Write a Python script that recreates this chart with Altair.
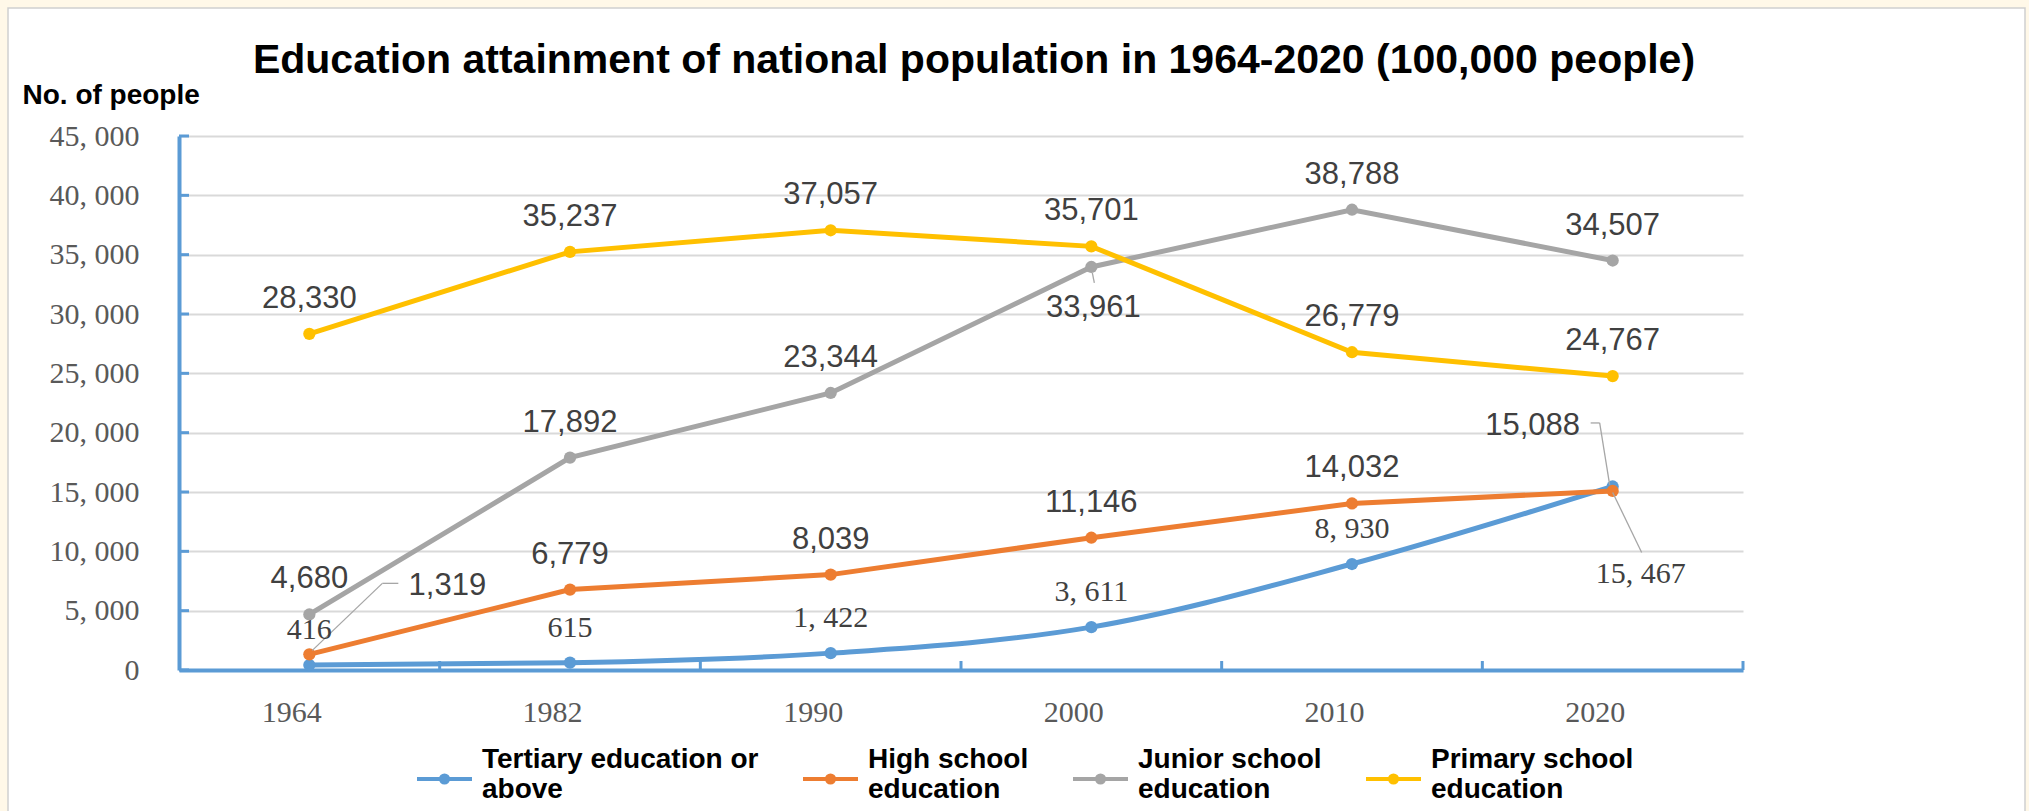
import altair as alt
import pandas as pd

# ---------------- data ----------------
years = ["1964", "1982", "1990", "2000", "2010", "2020"]
series_names = [
    "Tertiary education or above",
    "High school education",
    "Junior school education",
    "Primary school education",
]
tertiary = [416, 615, 1422, 3611, 8930, 15467]
high_school = [1319, 6779, 8039, 11146, 14032, 15088]
junior_school = [4680, 17892, 23344, 33961, 38788, 34507]
primary_school = [28330, 35237, 37057, 35701, 26779, 24767]
y_ticks = [0, 5000, 10000, 15000, 20000, 25000, 30000, 35000, 40000, 45000]

colors = ["#5B9BD5", "#ED7D31", "#A5A5A5", "#FFC000"]

rows = []
for name, vals in zip(series_names, [tertiary, high_school, junior_school, primary_school]):
    for yr, v in zip(years, vals):
        rows.append({"series": name, "year": yr, "value": v})
df = pd.DataFrame(rows)

# ---------------- layout ----------------
W, H = 1564, 534
PAD = {"left": 179, "top": 136, "right": 286, "bottom": 141}
STEP = W / 6.0
BLUE = "#5B9BD5"
CREAM = "#FFF8E8"
SANS = "Liberation Sans"
SERIF = "Liberation Serif"
LABEL_COLOR = "#404040"

DEFAULT_OFFSET = (0, -26)
LABEL_OFFSETS = {
    ("High school education", "1964"): (138, -59),
    ("High school education", "2020"): (-80, -56),
    ("Tertiary education or above", "2020"): (28, 97),
    ("Junior school education", "2000"): (2, 50),
}
LEADERS = [
    ("High school education", "1964", [(73, -71, 89, -71), (73, -71, 3, -4)]),
    ("High school education", "2020", [(-22, -68, -13, -68), (-13, -68, -3, -6)]),
    ("Tertiary education or above", "2020", [(0, 6, 29, 66)]),
    ("Junior school education", "2000", [(1, 6, 3, 16)]),
]

x_scale = alt.Scale(type="point", padding=0.5)
y_scale = alt.Scale(domain=[0, 45000], nice=False, zero=True)

x_enc = alt.X(
    "year:N", sort=years, scale=x_scale,
    axis=alt.Axis(
        title=None, labelFont=SERIF, labelFontSize=30, labelColor="#595959",
        labelPadding=42, labelOffset=12, labelAngle=0, ticks=False, grid=False,
        domainColor=BLUE, domainWidth=4,
    ),
)
y_enc = alt.Y(
    "value:Q", scale=y_scale,
    axis=alt.Axis(
        values=y_ticks,
        labelExpr="replace(format(datum.value, ','), ',', ', ')",
        labelFont=SERIF, labelFontSize=30, labelColor="#595959", labelPadding=40,
        ticks=False, domainColor=BLUE, domainWidth=4,
        gridColor="#D9D9D9", gridWidth=2,
        title="No. of people", titleFont=SANS, titleFontSize=28, titleFontWeight="bold",
        titleColor="black", titleAngle=0, titleAlign="left", titleBaseline="alphabetic",
        titleX=-157, titleY=-33,
    ),
)

# legend symbol: short line with a dot, lowered to sit between the two label lines
LEGEND_SYMBOL = ("M-1,0.7L1,0.7M0.13,0.7A0.13,0.13,0,1,1,-0.13,0.7"
                 "A0.13,0.13,0,1,1,0.13,0.7Z")
color_enc = alt.Color(
    "series:N",
    scale=alt.Scale(domain=series_names, range=colors),
    legend=alt.Legend(
        title=None, orient="none", legendX=236, legendY=594, direction="horizontal",
        columns=4, symbolType=LEGEND_SYMBOL, symbolSize=3025, symbolStrokeWidth=4,
        labelFont=SANS, labelFontSize=28, labelFontWeight="bold", labelColor="black",
        labelExpr="[slice(datum.label, 0, lastindexof(datum.label, ' ')), slice(datum.label, lastindexof(datum.label, ' ') + 1)]",
        labelOffset=8, columnPadding=36, labelLimit=600,
    ),
)

base = alt.Chart(df)

# cream frame around the white panel (decoration only)
L, T = PAD["left"], PAD["top"]
frame_src = alt.Chart(alt.Data(values=[{}]))
frame_left = frame_src.mark_rect(fill=CREAM).encode(
    x=alt.value(-L), x2=alt.value(8 - L), y=alt.value(-T), y2=alt.value(811 - T))
frame_top = frame_src.mark_rect(fill=CREAM).encode(
    x=alt.value(-L), x2=alt.value(2029 - L), y=alt.value(-T), y2=alt.value(8 - T))
frame_right = frame_src.mark_rect(fill=CREAM).encode(
    x=alt.value(2025 - L), x2=alt.value(2029 - L), y=alt.value(-T), y2=alt.value(811 - T))
panel_border = frame_src.mark_rect(fill="transparent", stroke="#CFCFCF", strokeWidth=1.5).encode(
    x=alt.value(8 - L), x2=alt.value(2025 - L), y=alt.value(8 - T), y2=alt.value(811 - T + 20))

# axis tick marks (pointing inward)
ytick_layer = alt.Chart(pd.DataFrame({"value": y_ticks})).mark_rule(
    color=BLUE, strokeWidth=3
).encode(y=alt.Y("value:Q", scale=y_scale), x=alt.value(0), x2=alt.value(10))

xtick_layer = alt.Chart(pd.DataFrame({"year": years})).mark_rule(
    color=BLUE, strokeWidth=3, xOffset=STEP / 2
).encode(x=alt.X("year:N", sort=years, scale=x_scale), y=alt.value(H), y2=alt.value(H - 9))

lines_smooth = base.transform_filter(
    alt.datum.series == series_names[0]
).mark_line(strokeWidth=5, interpolate="monotone").encode(x=x_enc, y=y_enc, color=color_enc)

lines_straight = base.transform_filter(
    alt.datum.series != series_names[0]
).mark_line(strokeWidth=5).encode(x=x_enc, y=y_enc, color=color_enc)

points = base.mark_circle(size=150, opacity=1).encode(x=x_enc, y=y_enc, color=color_enc)

layers = [frame_left, frame_top, frame_right, panel_border,
          ytick_layer, xtick_layer, lines_smooth, lines_straight, points]

# leader lines
for s, yr, segs in LEADERS:
    for (x1, y1, x2, y2) in segs:
        layers.append(
            base.transform_filter((alt.datum.series == s) & (alt.datum.year == yr))
            .mark_rule(color="#A6A6A6", strokeWidth=1.3,
                       xOffset=x1, yOffset=y1, x2Offset=x2, y2Offset=y2)
            .encode(x=alt.X("year:N", sort=years, scale=x_scale), x2="year",
                    y=alt.Y("value:Q", scale=y_scale), y2="value")
        )

# data labels
label_calc = (
    "datum.series == '" + series_names[0] + "' ? "
    "replace(format(datum.value, ','), ',', ', ') : format(datum.value, ',')"
)
override_keys = [f"{s}|{y}" for (s, y) in LABEL_OFFSETS]
keys_js = "[" + ",".join("'" + k + "'" for k in override_keys) + "]"
lab_base = base.transform_calculate(
    label=label_calc, key="datum.series + '|' + datum.year"
)


def text_layer(filter_expr, font, size, dx, dy):
    return lab_base.transform_filter(filter_expr).mark_text(
        font=font, fontSize=size, color=LABEL_COLOR, align="center",
        baseline="alphabetic", dx=dx, dy=dy,
    ).encode(x=alt.X("year:N", sort=years, scale=x_scale),
             y=alt.Y("value:Q", scale=y_scale), text="label:N")


tert = "'" + series_names[0] + "'"
layers.append(text_layer(f"indexof({keys_js}, datum.key) < 0 && datum.series == {tert}",
                         SERIF, 30, *DEFAULT_OFFSET))
layers.append(text_layer(f"indexof({keys_js}, datum.key) < 0 && datum.series != {tert}",
                         SANS, 31, *DEFAULT_OFFSET))
for (s, yr), (dx, dy) in LABEL_OFFSETS.items():
    font, size = (SERIF, 30) if s == series_names[0] else (SANS, 31)
    layers.append(text_layer(f"datum.key == '{s}|{yr}'", font, size, dx, dy))

chart = alt.layer(*layers).properties(
    width=W, height=H,
    autosize=alt.AutoSizeParams(type="none"),
    padding=PAD,
    title=alt.TitleParams(
        "Education attainment of national population in 1964-2020 (100,000 people)",
        font=SANS, fontSize=41, fontWeight="bold", color="black",
        anchor="middle", dx=13, dy=41, baseline="alphabetic", offset=-73,
    ),
).configure(background="white").configure_view(stroke=None)

chart.save("out.html", embed_options={"renderer": "svg", "actions": False})
